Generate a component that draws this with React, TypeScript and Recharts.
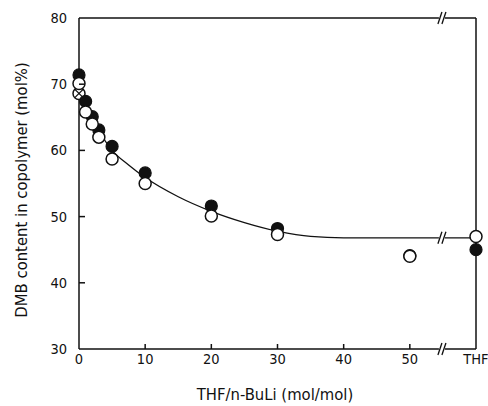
import {
  ComposedChart,
  Customized,
  Line,
  ReferenceDot,
  ReferenceLine,
  Scatter,
  XAxis,
  YAxis,
} from 'recharts'

// THF/n-BuLi ratio; "THF" (pure THF solvent) is placed at 60 on the axis
const filledX = [0, 1, 2, 3, 5, 10, 20, 30, 50, 60]
const filledY = [71.4, 67.4, 65.1, 63.1, 60.6, 56.6, 51.6, 48.2, 44.1, 45.0]

const openX = [0, 1, 2, 3, 5, 10, 20, 30, 50, 60]
const openY = [70.1, 65.8, 64.0, 62.0, 58.7, 55.0, 50.1, 47.3, 44.0, 47.0]

const crossX = [0]
const crossY = [68.6]

const curveX = [0, 1, 2, 3, 5, 7.5, 10, 15, 20, 25, 30, 35, 40, 45, 50, 55, 60]
const curveY = [69.3, 67.0, 64.9, 63.0, 60.0, 57.8, 55.9, 53.0, 50.8, 49.1, 47.8, 47.0, 46.8, 46.8, 46.8, 46.8, 46.8]

const xTicks = [0, 10, 20, 30, 40, 50, 60]
const yTicks = [30, 40, 50, 60, 70, 80]
const breakAt = 55

const zip = (xs: number[], ys: number[]) => xs.map((x, i) => ({ x, y: ys[i] }))

const filled = zip(filledX, filledY)
const open = zip(openX, openY)
const crossed = zip(crossX, crossY)
const curve = zip(curveX, curveY)

const ink = '#111'
const font = '"DejaVu Sans Condensed", "DejaVu Sans", sans-serif'
const R = 6

const XTick = ({ x, y, payload }: any) => {
  const v = payload.value
  return (
    <g>
      {v > 0 && v < 60 && <line x1={x} x2={x} y1={y} y2={y - 5} stroke={ink} strokeWidth={1.5} />}
      <text x={x} y={y + 15} textAnchor="middle" fontSize={14.5} fontFamily={font} fill={ink}>
        {v === 60 ? 'THF' : v}
      </text>
    </g>
  )
}

const YTick = ({ x, y, payload }: any) => {
  const v = payload.value
  return (
    <g>
      {v > 30 && v < 80 && <line x1={x} x2={x + 6} y1={y} y2={y} stroke={ink} strokeWidth={1.5} />}
      <text x={x - 12} y={y + 5} textAnchor="end" fontSize={14.5} fontFamily={font} fill={ink}>
        {v}
      </text>
    </g>
  )
}

const FilledDot = ({ cx, cy }: any) => <circle cx={cx} cy={cy} r={R} fill={ink} stroke={ink} strokeWidth={1.2} />
const OpenDot = ({ cx, cy }: any) => <circle cx={cx} cy={cy} r={R} fill="#fff" stroke={ink} strokeWidth={1.5} />
const CrossDot = ({ cx, cy }: any) => {
  const d = R * 0.7
  return (
    <g>
      <circle cx={cx} cy={cy} r={R} fill="#fff" stroke={ink} strokeWidth={1.5} />
      <line x1={cx - d} y1={cy - d} x2={cx + d} y2={cy + d} stroke={ink} strokeWidth={1.2} />
      <line x1={cx - d} y1={cy + d} x2={cx + d} y2={cy - d} stroke={ink} strokeWidth={1.2} />
    </g>
  )
}

const BreakMark = ({ cx, cy }: any) => (
  <g>
    <rect x={cx - 4} y={cy - 3} width={6} height={6} fill="#fff" />
    <line x1={cx - 5} y1={cy + 6} x2={cx - 1} y2={cy - 6} stroke={ink} strokeWidth={1.3} />
    <line x1={cx - 1} y1={cy + 6} x2={cx + 3} y2={cy - 6} stroke={ink} strokeWidth={1.3} />
  </g>
)

const Titles = () => (
  <g fontFamily={font} fill={ink}>
    <text x={275} y={400} textAnchor="middle" fontSize={16.5}>
      THF/n-BuLi (mol/mol)
    </text>
    <text x={27} y={190} textAnchor="middle" fontSize={16.5} transform="rotate(-90 27 190)">
      DMB content in copolymer (mol%)
    </text>
  </g>
)

export default function App() {
  return (
    <div style={{ position: 'absolute', left: 0, top: 0, background: '#fff' }}>
      <ComposedChart width={488} height={406} margin={{ top: 18, right: 12, left: 0, bottom: 0 }}>
        <XAxis
          type="number"
          dataKey="x"
          domain={[0, 60]}
          ticks={xTicks}
          height={57}
          tickSize={0}
          tickMargin={0}
          tickLine={false}
          axisLine={{ stroke: ink, strokeWidth: 1.5 }}
          tick={<XTick />}
        />
        <YAxis
          type="number"
          dataKey="y"
          domain={[30, 80]}
          ticks={yTicks}
          width={79}
          tickSize={0}
          tickMargin={0}
          tickLine={false}
          axisLine={{ stroke: ink, strokeWidth: 1.5 }}
          tick={<YTick />}
        />
        <ReferenceLine y={80} stroke={ink} strokeWidth={1.5} />
        <ReferenceLine x={60} stroke={ink} strokeWidth={1.5} />
        <Line
          data={curve}
          dataKey="y"
          type="monotone"
          stroke={ink}
          strokeWidth={1.3}
          dot={false}
          activeDot={false}
          isAnimationActive={false}
        />
        <ReferenceDot x={breakAt} y={80} r={0} shape={<BreakMark />} />
        <ReferenceDot x={breakAt} y={30} r={0} shape={<BreakMark />} />
        <ReferenceDot x={breakAt} y={46.8} r={0} shape={<BreakMark />} />
        <Scatter data={crossed} dataKey="y" shape={<CrossDot />} isAnimationActive={false} />
        <Scatter data={filled} dataKey="y" shape={<FilledDot />} isAnimationActive={false} />
        <Scatter data={open} dataKey="y" shape={<OpenDot />} isAnimationActive={false} />
        <Customized component={<Titles />} />
      </ComposedChart>
    </div>
  )
}
